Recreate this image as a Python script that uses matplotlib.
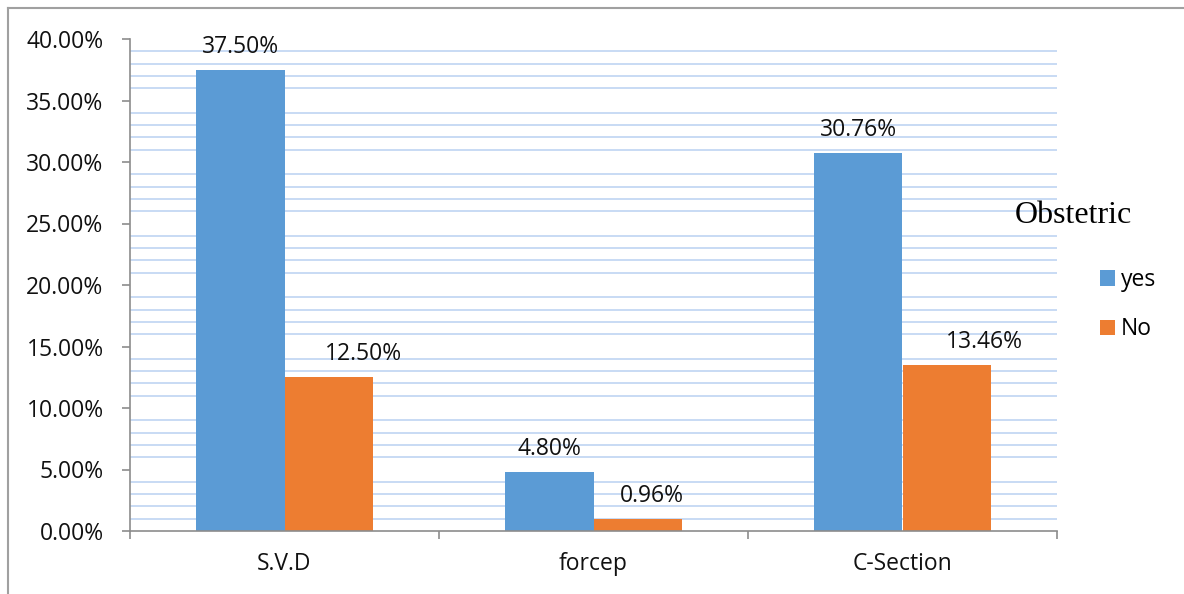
import numpy as np
import matplotlib
matplotlib.use("Agg")
from matplotlib import pyplot as plt
from matplotlib.lines import Line2D
from matplotlib.ticker import FuncFormatter

categories = ["S.V.D", "forcep", "C-Section"]
yes_vals = [37.50, 4.80, 30.76]
no_vals = [12.50, 0.96, 13.46]
series_names = ["yes", "No"]
legend_title = "Obstetric"

# the "No" value labels sit a bit to the right of their bars in the original
no_label_dx = [25, 10, 27]

blue = "#5b9bd5"
orange = "#ed7d31"
grid_col = "#c4d8f3"
axis_col = "#8c8c8c"
fs = 16.5

plt.rcParams['font.family'] = ['Open Sans', 'DejaVu Sans']

fig = plt.figure(figsize=(11.84, 5.94), dpi=100)
ax = fig.add_axes([130/1184, 1-531/594, 927/1184, 492/594])

x = np.arange(len(categories))
w = 0.285

# light minor grid (every 1%, skipping the 5% ticks like the original)
for g in range(1, 40):
    if g % 5 != 0:
        ax.axhline(g, color=grid_col, lw=1.3, zorder=0)

b1 = ax.bar(x - w/2, yes_vals, w, color=blue, label=series_names[0], zorder=2)
b2 = ax.bar(x + w/2, no_vals, w, color=orange, label=series_names[1], zorder=2)

for r, v in zip(b1, yes_vals):
    ax.annotate(f"{v:.2f}%", (r.get_x() + r.get_width()/2, v),
                xytext=(0, 8), textcoords="offset points",
                ha="center", va="bottom", fontsize=fs, color="#111111")
for r, v, dx in zip(b2, no_vals, no_label_dx):
    ax.annotate(f"{v:.2f}%", (r.get_x() + r.get_width()/2, v),
                xytext=(dx, 8), textcoords="offset points",
                ha="center", va="bottom", fontsize=fs, color="#111111")

ax.set_xlim(-0.5, len(categories) - 0.5)
ax.set_ylim(0, 40)
ax.set_yticks(np.arange(0, 41, 5))
ax.yaxis.set_major_formatter(FuncFormatter(lambda v, p: f"{v:.2f}%"))
ax.set_xticks(x)
ax.set_xticklabels(categories)
ax.set_xticks(np.arange(-0.5, len(categories), 1), minor=True)

for s in ("top", "right"):
    ax.spines[s].set_visible(False)
for s in ("left", "bottom"):
    ax.spines[s].set_color(axis_col)
    ax.spines[s].set_linewidth(1.2)

ax.tick_params(axis="y", direction="out", length=6, width=1.2, color=axis_col,
               pad=13, labelsize=fs, labelcolor="#111111")
ax.tick_params(axis="x", which="major", length=0, pad=15, labelsize=fs,
               labelcolor="#111111")
ax.tick_params(axis="x", which="minor", direction="out", length=6, width=1.2,
               color=axis_col)

fig.text(1015/1184, 1-215/594, legend_title, family="Liberation Serif",
         fontsize=23, va="center", ha="left")
ax.legend(handles=[b1, b2], loc="upper left", bbox_to_anchor=(1100/1184, 1-268/594),
          bbox_transform=fig.transFigure, frameon=False, fontsize=fs,
          borderpad=0, borderaxespad=0,
          handlelength=0.65, handleheight=0.65, handletextpad=0.25, labelspacing=1.1)

# outer chart border (top and left only visible)
fig.add_artist(Line2D([8/1184, 1], [1-8/594, 1-8/594], color="#a0a0a0", lw=1.5))
fig.add_artist(Line2D([8/1184, 8/1184], [0, 1-8/594], color="#a0a0a0", lw=1.5))

fig.savefig("out.png", dpi=100)
